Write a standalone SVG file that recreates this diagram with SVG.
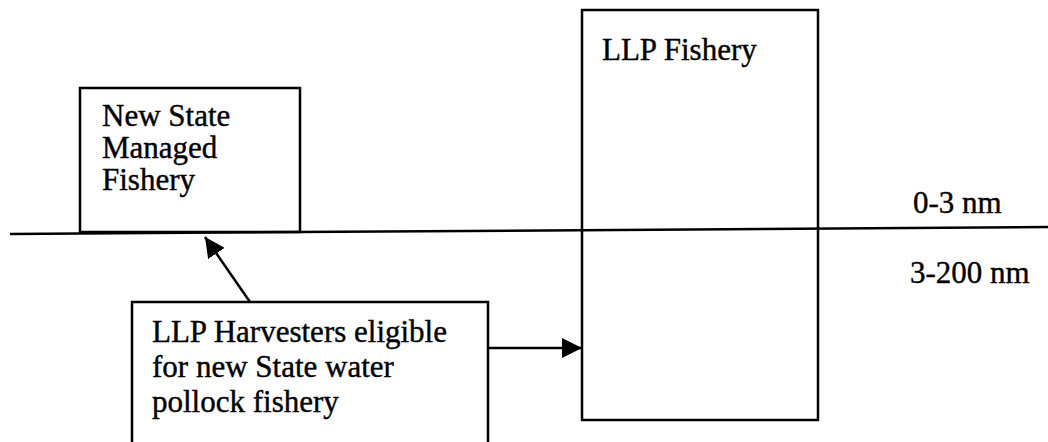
<svg xmlns="http://www.w3.org/2000/svg" width="1048" height="442" viewBox="0 0 1048 442">
<style>
.box{fill:none;stroke:#000;stroke-width:2.5}
.t{font-family:'Liberation Serif','Times New Roman','DejaVu Serif',serif;font-size:31px;fill:#000;stroke:#000;stroke-width:0.4}
.c{stroke:#000;stroke-width:2.5;fill:none}
</style>
<defs>
<marker id="ah2" viewBox="0 0 10 10" refX="10" refY="5" markerWidth="20" markerHeight="20" orient="auto" markerUnits="userSpaceOnUse">
<path d="M0,0L10,5L0,10z" fill="#000"/>
</marker>
</defs>
<rect width="1048" height="442" fill="#fff"/>
<line x1="10" y1="234" x2="1048" y2="227" stroke="#000" stroke-width="2.5"/>
<g id="new-state">
<rect class="box" x="80" y="88" width="220" height="144"/>
<text class="t" x="102" y="126">New State</text>
<text class="t" x="102" y="158">Managed</text>
<text class="t" x="102" y="190">Fishery</text>
</g>
<g id="llp-fishery">
<rect class="box" x="582" y="10" width="236" height="410"/>
<text class="t" x="602" y="60">LLP Fishery</text>
</g>
<g id="harvesters">
<rect class="box" x="132" y="302" width="356" height="145"/>
<text class="t" x="152" y="342">LLP Harvesters eligible</text>
<text class="t" x="152" y="377">for new State water</text>
<text class="t" x="152" y="412">pollock fishery</text>
</g>
<g id="labels">
<text class="t" x="913" y="213">0-3 nm</text>
<text class="t" x="910" y="283">3-200 nm</text>
</g>
<g id="connectors">
<line class="c" x1="250" y1="302" x2="205" y2="237" marker-end="url(#ah2)"/>
<line class="c" x1="488" y1="348" x2="582" y2="348" marker-end="url(#ah2)"/>
</g>
</svg>
